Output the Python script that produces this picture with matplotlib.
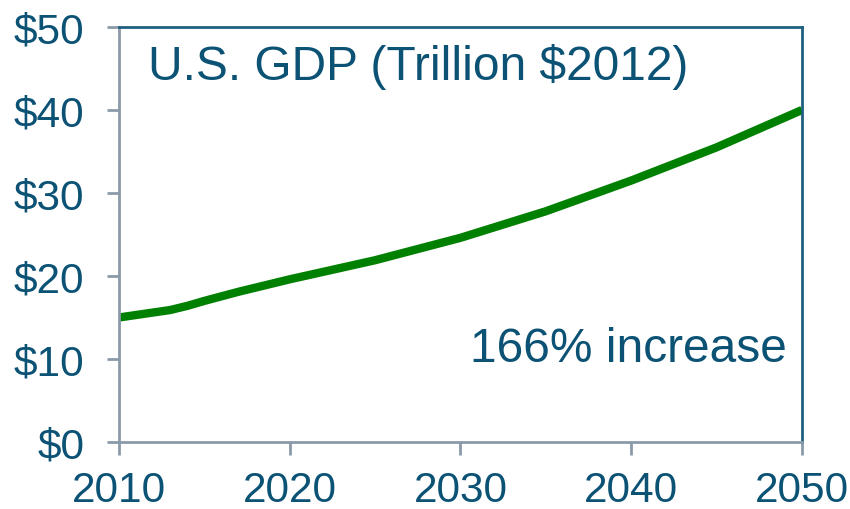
import matplotlib
matplotlib.use('Agg')
from matplotlib import pyplot as plt
from matplotlib.ticker import FuncFormatter

# real GDP, trillions of 2012 dollars
years = [2010, 2011, 2012, 2013, 2014, 2015, 2017, 2020, 2025, 2030, 2035, 2040, 2045, 2050]
gdp = [15.0, 15.3, 15.6, 15.9, 16.4, 17.0, 18.1, 19.6, 21.9, 24.6, 27.8, 31.5, 35.5, 40.0]
x_ticks = [2010, 2020, 2030, 2040, 2050]
y_ticks = [0, 10, 20, 30, 40, 50]

text_color = '#0B5274'
grey = '#8A9AA8'

plt.rcParams['font.family'] = ['Liberation Sans', 'DejaVu Sans']

fig = plt.figure(figsize=(8.5, 5.1), dpi=100)
ax = fig.add_axes([0.14, 0.1314, 0.8035, 0.8137])

ax.plot(years, gdp, color='#008000', linewidth=6, solid_capstyle='butt')

ax.set_xlim(2010, 2050)
ax.set_ylim(0, 50)
ax.set_xticks(x_ticks)
ax.set_yticks(y_ticks)
ax.yaxis.set_major_formatter(FuncFormatter(lambda v, p: '${:.0f}'.format(v)))

ax.tick_params(axis='both', colors=grey, labelcolor=text_color, width=2, labelsize=30.5)
ax.tick_params(axis='x', length=9.5, pad=11)
ax.tick_params(axis='y', length=9, pad=16)

for side in ['left', 'bottom']:
    ax.spines[side].set_color(grey)
    ax.spines[side].set_linewidth(2)
for side in ['top', 'right']:
    ax.spines[side].set_color('#1F5F7F')
    ax.spines[side].set_linewidth(2)

ax.text(0.042, 0.962, 'U.S. GDP (Trillion $2012)', transform=ax.transAxes,
        ha='left', va='top', fontsize=34.5, color=text_color)
ax.text(0.978, 0.195, '166% increase', transform=ax.transAxes,
        ha='right', va='baseline', fontsize=34.5, color=text_color)

fig.savefig('out.png', dpi=100)
